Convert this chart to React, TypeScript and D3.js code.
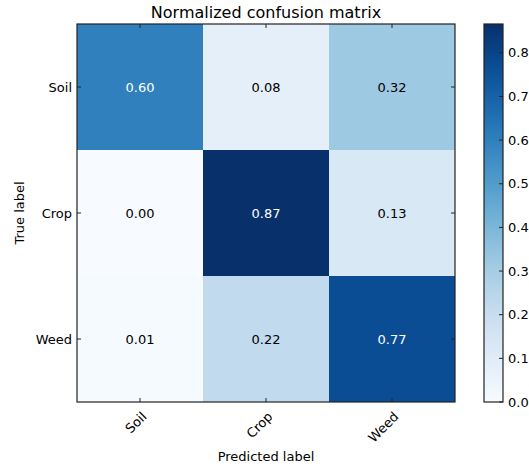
import React, { useEffect, useRef } from "react";
import * as d3 from "d3";

const classes = ["Soil", "Crop", "Weed"];
const matrix = [
  [0.6, 0.08, 0.32],
  [0.0, 0.87, 0.13],
  [0.01, 0.22, 0.77],
];
const vmax = 0.866;
const cbarTicks = [0, 0.1, 0.2, 0.3, 0.4, 0.5, 0.6, 0.7, 0.8];

const App: React.FC = () => {
  const ref = useRef<SVGSVGElement>(null);

  useEffect(() => {
    if (!ref.current) return;
    document.body.style.margin = "0";
    const svg = d3.select(ref.current);
    svg.selectAll("*").remove();

    const font = "DejaVu Sans, sans-serif";
    const left = 77, top = 24, size = 378;
    const cbX = 484, cbW = 19;

    const x = d3.scaleBand().domain(classes).range([left, left + size]);
    const y = d3.scaleBand().domain(classes).range([top, top + size]);
    const color = d3.scaleSequential(d3.interpolateBlues).domain([0, vmax]);
    const cy = d3.scaleLinear().domain([0, vmax]).range([top + size, top]);

    // cells
    const cells = matrix.flatMap((row, i) =>
      row.map((v, j) => ({ v, r: classes[i], c: classes[j] }))
    );
    svg
      .append("g")
      .selectAll("rect")
      .data(cells)
      .join("rect")
      .attr("x", (d) => x(d.c)!)
      .attr("y", (d) => y(d.r)!)
      .attr("width", x.bandwidth())
      .attr("height", y.bandwidth())
      .attr("fill", (d) => color(d.v));

    svg
      .append("g")
      .selectAll("text")
      .data(cells)
      .join("text")
      .attr("x", (d) => x(d.c)! + x.bandwidth() / 2)
      .attr("y", (d) => y(d.r)! + y.bandwidth() / 2)
      .attr("dy", "0.35em")
      .attr("text-anchor", "middle")
      .attr("font-family", font)
      .attr("font-size", 13)
      .attr("fill", (d) => (d.v > vmax / 2 ? "white" : "black"))
      .text((d) => d.v.toFixed(2));

    // frame + inward ticks
    svg
      .append("rect")
      .attr("x", left)
      .attr("y", top)
      .attr("width", size)
      .attr("height", size)
      .attr("fill", "none")
      .attr("stroke", "#222")
      .attr("stroke-width", 1.2);

    const tk = svg.append("g").attr("stroke", "#222").attr("stroke-width", 1);
    classes.forEach((c) => {
      const cx = x(c)! + x.bandwidth() / 2;
      const cyy = y(c)! + y.bandwidth() / 2;
      tk.append("line").attr("x1", cx).attr("x2", cx).attr("y1", top).attr("y2", top + 4);
      tk.append("line").attr("x1", cx).attr("x2", cx).attr("y1", top + size).attr("y2", top + size - 4);
      tk.append("line").attr("x1", left).attr("x2", left + 4).attr("y1", cyy).attr("y2", cyy);
      tk.append("line").attr("x1", left + size).attr("x2", left + size - 4).attr("y1", cyy).attr("y2", cyy);
    });

    // tick labels
    svg
      .append("g")
      .selectAll("text")
      .data(classes)
      .join("text")
      .attr("x", left - 5)
      .attr("y", (d) => y(d)! + y.bandwidth() / 2)
      .attr("dy", "0.35em")
      .attr("text-anchor", "end")
      .attr("font-family", font)
      .attr("font-size", 13)
      .text((d) => d);

    svg
      .append("g")
      .selectAll("text")
      .data(classes)
      .join("text")
      .attr("transform", (d) => `translate(${x(d)! + x.bandwidth() / 2 + 1},${top + size + 9}) rotate(-45)`)
      .attr("text-anchor", "end")
      .attr("dy", "0.7em")
      .attr("font-family", font)
      .attr("font-size", 13)
      .text((d) => d);

    // titles
    svg
      .append("text")
      .attr("x", left + size / 2)
      .attr("y", 18)
      .attr("text-anchor", "middle")
      .attr("font-family", font)
      .attr("font-size", 16)
      .text("Normalized confusion matrix");

    svg
      .append("text")
      .attr("x", left + size / 2)
      .attr("y", 461)
      .attr("text-anchor", "middle")
      .attr("font-family", font)
      .attr("font-size", 13)
      .text("Predicted label");

    svg
      .append("text")
      .attr("transform", `translate(24,${top + size / 2}) rotate(-90)`)
      .attr("text-anchor", "middle")
      .attr("font-family", font)
      .attr("font-size", 13)
      .text("True label");

    // colorbar
    const defs = svg.append("defs");
    const grad = defs
      .append("linearGradient")
      .attr("id", "cbar")
      .attr("x1", 0).attr("x2", 0).attr("y1", 1).attr("y2", 0);
    d3.range(0, 1.0001, 0.05).forEach((t) => {
      grad.append("stop").attr("offset", t).attr("stop-color", color(t * vmax));
    });
    svg
      .append("rect")
      .attr("x", cbX)
      .attr("y", top)
      .attr("width", cbW)
      .attr("height", size)
      .attr("fill", "url(#cbar)")
      .attr("stroke", "#222")
      .attr("stroke-width", 1.2);

    const cb = svg.append("g");
    cb.selectAll("line")
      .data(cbarTicks)
      .join("line")
      .attr("x1", cbX + cbW)
      .attr("x2", cbX + cbW - 4)
      .attr("y1", (d) => cy(d))
      .attr("y2", (d) => cy(d))
      .attr("stroke", "#222");
    cb.selectAll("text")
      .data(cbarTicks)
      .join("text")
      .attr("x", cbX + cbW + 5)
      .attr("y", (d) => cy(d))
      .attr("dy", "0.35em")
      .attr("font-family", font)
      .attr("font-size", 13)
      .text((d) => d.toFixed(1));
  }, []);

  return <svg ref={ref} width={529} height={467} style={{ display: "block" }} />;
};

export default App;
